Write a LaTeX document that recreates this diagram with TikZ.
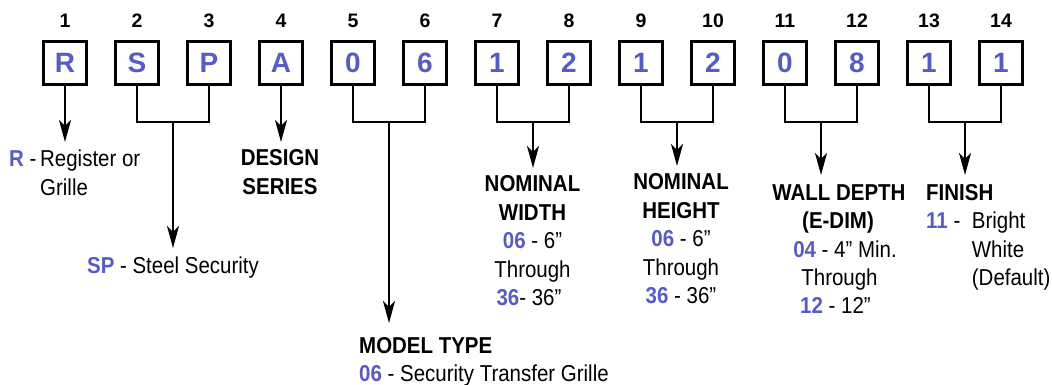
\documentclass[tikz,border=0pt]{standalone}
\usepackage{fontspec}
\setmainfont{Liberation Sans}[FakeStretch=0.89]
\newfontfamily\plainsans{Liberation Sans}
\usetikzlibrary{arrows.meta}
\definecolor{codeblue}{RGB}{87,91,201}
\newcommand{\hl}[1]{{\bfseries\color{codeblue}#1}}
\newcommand{\txtsize}{\fontsize{23}{27}\selectfont}
\begin{document}
\begin{tikzpicture}[x=1pt,y=-1pt,
  digitbox/.style={draw, line width=3.3pt, minimum width=43.5pt, minimum height=42.5pt, inner sep=0pt,
    font=\plainsans\fontsize{28}{30}\selectfont\bfseries, text=codeblue},
  poslabel/.style={font=\plainsans\fontsize{19.5}{22}\selectfont\bfseries, anchor=base, inner sep=0pt},
  conn/.style={line width=2pt},
  arr/.style={line width=2pt, -{Stealth[length=22pt,width=12pt,inset=6pt]}},
  lbl/.style={font=\txtsize, anchor=base, inner sep=0pt},
  lblw/.style={font=\txtsize, anchor=base west, inner sep=0pt},
  head/.style={font=\txtsize\bfseries, anchor=base, inner sep=0pt},
]
\useasboundingbox (0,0) rectangle (1052,385);

% boxes and position numbers
\foreach \i/\c in {1/R,2/S,3/P,4/A,5/0,6/6,7/1,8/2,9/1,10/2,11/0,12/8,13/1,14/1}{
  \node[digitbox] (b\i) at ({65+72*(\i-1)},63) {\c};
  \node[poslabel] (n\i) at ({65+72*(\i-1)},27.3) {\i};
}

% junctions and arrow tips
\coordinate (t1) at (65,142);
\coordinate (t4) at (281,142);
\coordinate (j23) at (173,122);   \coordinate (t23) at (173,248);
\coordinate (j56) at (389,122);   \coordinate (t56) at (389,323);
\coordinate (j78) at (533,122);   \coordinate (t78) at (533,168);
\coordinate (j910) at (677,122);  \coordinate (t910) at (677,166);
\coordinate (j1112) at (821,122); \coordinate (t1112) at (821,175);
\coordinate (j1314) at (965,122); \coordinate (t1314) at (965,175);

\draw[arr] (b1.south) -- (t1);
\draw[arr] (b4.south) -- (t4);
\draw[conn] (b2.south) |- (j23) -| (b3.south);     \draw[arr] (j23) -- (t23);
\draw[conn] (b5.south) |- (j56) -| (b6.south);     \draw[arr] (j56) -- (t56);
\draw[conn] (b7.south) |- (j78) -| (b8.south);     \draw[arr] (j78) -- (t78);
\draw[conn] (b9.south) |- (j910) -| (b10.south);   \draw[arr] (j910) -- (t910);
\draw[conn] (b11.south) |- (j1112) -| (b12.south); \draw[arr] (j1112) -- (t1112);
\draw[conn] (b13.south) |- (j1314) -| (b14.south); \draw[arr] (j1314) -- (t1314);

% R
\node[lblw] (r1) at (9,166.7) {\hl{R} -};
\node[lblw] (r2) at (40,166.7) {Register or};
\node[lblw] (r3) at (40,195) {Grille};

% SP
\node[lbl] (sp) at (173,273) {\hl{SP} - Steel Security};

% Design series
\node[head] (d1) at (280,165.7) {DESIGN};
\node[head] (d2) at (280,194) {SERIES};

% Model type
\node[lblw] (m1) at (359,353.3) {\bfseries MODEL TYPE};
\node[lblw] (m2) at (359,381) {\hl{06} - Security Transfer Grille};

% Nominal width
\node[head] (w1) at (532.5,191.5) {NOMINAL};
\node[head] (w2) at (532.5,220) {WIDTH};
\node[lbl] (w3) at (532.5,248.5) {\hl{06} - 6”};
\node[lbl] (w4) at (532.5,277) {Through};
\node[lbl] (w5) at (529,305.5) {\hl{36}- 36”};

% Nominal height
\node[head] (h1) at (681,189.5) {NOMINAL};
\node[head] (h2) at (681,218) {HEIGHT};
\node[lbl] (h3) at (681,246.5) {\hl{06} - 6”};
\node[lbl] (h4) at (681,275) {Through};
\node[lbl] (h5) at (681,303.5) {\hl{36} - 36”};

% Wall depth
\node[head] (e1) at (839,200) {WALL DEPTH};
\node[head] (e2) at (838,228.5) {(E-DIM)};
\node[lbl] (e3) at (845,257) {\hl{04} - 4” Min.};
\node[lbl] (e4) at (839.5,285.5) {Through};
\node[lbl] (e5) at (835.5,313.5) {\hl{12} - 12”};

% Finish
\node[lblw] (f1) at (926,200) {\bfseries FINISH};
\node[lblw] (f2) at (926,228.5) {\hl{11} -};
\node[lblw] (f3) at (971.7,228.5) {Bright};
\node[lblw] (f4) at (971.7,257) {White};
\node[lblw] (f5) at (971.7,285.5) {(Default)};
\end{tikzpicture}
\end{document}
